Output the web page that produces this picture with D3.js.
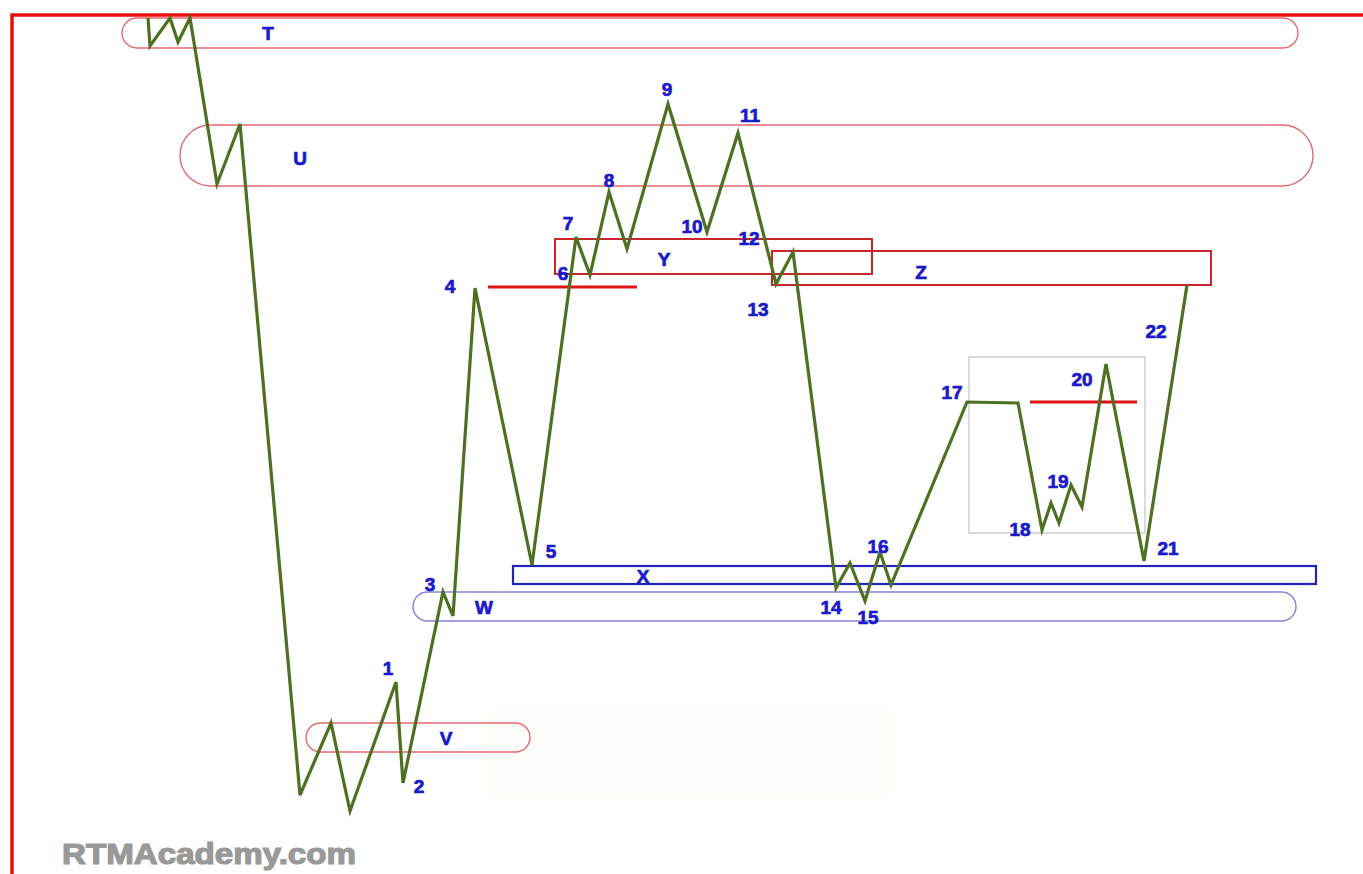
<!DOCTYPE html>
<html><head><meta charset="utf-8">
<script src="https://cdn.jsdelivr.net/npm/d3@7"></script>
<style>html,body{margin:0;padding:0;background:#fff;overflow:hidden}</style>
</head><body>
<svg id="c" width="1363" height="874"></svg>
<script>
// ---- data ----
// price path: time index and price (arbitrary units)
const pathTime  = [148,150,170,178,190,217,240,300,331,350,396,403,443,453,475,532,576,590,609,627,668,707,738,776,793,836,850,865,880,891,967,1018,1042,1051,1059,1071,1082,1106,1144,1187];
const pathPrice = [856,828,856,832,856,690,750,79,151,63,192,91,282,258,586,309,637,599,682,625,770,642,741,590,622,286,311,273,322,289,472,471,344,371,351,389,367,510,313,589];

// zones
const zoneNames  = ['T','U','V','W','X','Y','Z'];
const zoneKind   = ['pill','pill','pill','pillBlue','rectBlue','rectRed','rectRed'];
const zoneStart  = [122,180,306,413,513,555,772];
const zoneEnd    = [1298,1313,530,1296,1316,872,1211];
const zoneTop    = [856,749,151,282,308,635,623];
const zoneBottom = [826,688,122,253,290,600,589];
const zoneLabelT = [268,300,446,484,643,664,921];
const zoneLabelP = [841,716,136,267,298,615,602];

// pivot labels
const pivotNames = ['1','2','3','4','5','6','7','8','9','10','11','12','13','14','15','16','17','18','19','20','21','22'];
const pivotT = [388,419,430,450,551,563,568,609,667,692,750,749,758,831,868,878,952,1020,1058,1082,1168,1156];
const pivotP = [206,88,290,588,323,601,651,694,785,648,759,636,565,267,257,328,482,345,393,495,326,543];

// reference levels
const levelStart = [488,1030];
const levelEnd   = [637,1137];
const levelPrice = [587,472];

// highlight box (17-21)
const boxT = [969,1145];
const boxP = [517,341];

// ---- drawing ----
const svg = d3.select('#c');
const x = d3.scaleLinear().domain([0,1363]).range([0,1363]);
const y = d3.scaleLinear().domain([0,874]).range([874,0]);

// faint background patch
svg.append('rect').attr('x',x(490)).attr('y',y(164)).attr('width',x(890)-x(490)).attr('height',y(79)-y(164)).attr('fill','#fdfdfa');

// frame
svg.append('path').attr('d',`M12,874 L12,15 L1363,15`).attr('fill','none').attr('stroke','#e8100f').attr('stroke-width',3.5);

// highlight box
svg.append('rect').attr('x',x(boxT[0])).attr('y',y(boxP[0])).attr('width',x(boxT[1])-x(boxT[0])).attr('height',y(boxP[1])-y(boxP[0]))
  .attr('fill','none').attr('stroke','#cfcfcf').attr('stroke-width',1.5);

const zones = zoneNames.map((n,i)=>({n,kind:zoneKind[i],t0:zoneStart[i],t1:zoneEnd[i],top:zoneTop[i],bot:zoneBottom[i],lt:zoneLabelT[i],lp:zoneLabelP[i]}));
const styles = {
  pill:{stroke:'#e46a70',w:1.4},
  pillBlue:{stroke:'#8484dc',w:1.4},
  rectBlue:{stroke:'#2323b8',w:2.2},
  rectRed:{stroke:'#c8262a',w:2}
};
zones.forEach(z=>{
  const h = y(z.bot)-y(z.top);
  const st = styles[z.kind];
  svg.append('rect').attr('x',x(z.t0)).attr('y',y(z.top)).attr('width',x(z.t1)-x(z.t0)).attr('height',h)
    .attr('rx',z.kind.startsWith('pill')?h/2:0).attr('ry',z.kind.startsWith('pill')?h/2:0)
    .attr('fill','none').attr('stroke',st.stroke).attr('stroke-width',st.w);
});

// reference levels
levelPrice.forEach((p,i)=>{
  svg.append('line').attr('x1',x(levelStart[i])).attr('x2',x(levelEnd[i])).attr('y1',y(p)).attr('y2',y(p))
    .attr('stroke','#e01414').attr('stroke-width',3);
});

// price path
const pts = pathTime.map((t,i)=>[t,pathPrice[i]]);
svg.append('path').datum(pts)
  .attr('d',d3.line().x(d=>x(d[0])).y(d=>y(d[1])))
  .attr('fill','none').attr('stroke','#4d7022').attr('stroke-width',3.2).attr('stroke-linejoin','miter');

// labels
const font = '"Liberation Sans", Arial, sans-serif';
function lab(t,p,s){
  svg.append('text').attr('x',x(t)).attr('y',y(p)).text(s)
    .attr('text-anchor','middle').attr('dominant-baseline','central')
    .attr('font-family',font).attr('font-weight','bold').attr('font-size',19)
    .attr('fill','#1a1ac8').attr('stroke','#1a1ac8').attr('stroke-width',0.7);
}
zones.forEach(z=>lab(z.lt,z.lp,z.n));
pivotNames.forEach((n,i)=>lab(pivotT[i],pivotP[i],n));

// watermark
svg.append('text').attr('x',62).attr('y',864).text('RTMAcademy.com')
  .attr('font-family',font).attr('font-weight','bold').attr('font-size',29).attr('fill','#999')
  .attr('stroke','#999').attr('stroke-width',1.2)
  .attr('textLength',294).attr('lengthAdjust','spacingAndGlyphs');
</script>
</body></html>
